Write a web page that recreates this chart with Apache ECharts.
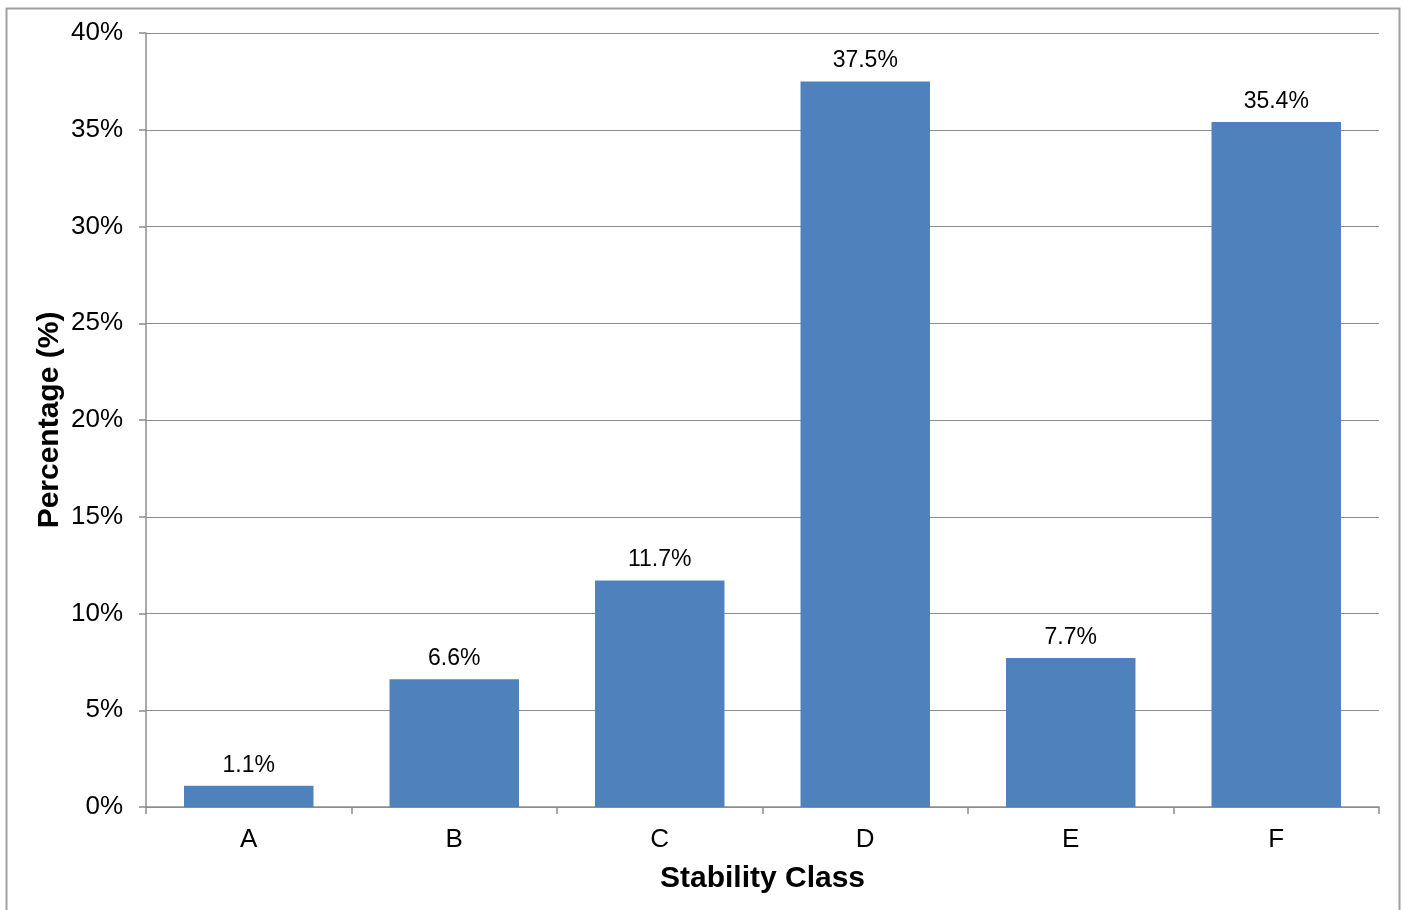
<!DOCTYPE html>
<html><head><meta charset="utf-8">
<script src="https://cdn.jsdelivr.net/npm/echarts@6/dist/echarts.min.js"></script>
<style>html,body{margin:0;padding:0;background:#fff}#c{width:1405px;height:910px}</style>
</head><body><div id="c"></div>
<script>
const categories = ['A','B','C','D','E','F'];
const percentages = [1.1, 6.6, 11.7, 37.5, 7.7, 35.4];
const yTicks = [0, 5, 10, 15, 20, 25, 30, 35, 40];

const chart = echarts.init(document.getElementById('c'), null, {renderer:'canvas'});
const font = 'Liberation Sans, Arial, sans-serif';
chart.setOption({
  animation: false,
  graphic: [{type:'rect', shape:{x:6.5, y:8.5, width:1393, height:920}, style:{fill:'none', stroke:'#a0a0a0', lineWidth:2}, z:-1}],
  grid: {left:146, right:26, top:33, bottom:103},
  xAxis: {
    type:'category', data:categories,
    name:'Stability Class', nameLocation:'middle', nameGap:57, nameMoveOverlap:false,
    nameTextStyle:{fontFamily:font, fontSize:30, fontWeight:'bold', color:'#000'},
    axisLine:{lineStyle:{color:'#8c8c8c', width:1.5}},
    axisTick:{show:true, length:7, lineStyle:{color:'#8c8c8c', width:1.5}},
    axisLabel:{fontFamily:font, fontSize:26, color:'#000', margin:20}
  },
  yAxis: {
    type:'value', min:yTicks[0], max:yTicks[yTicks.length-1], interval:5,
    name:'Percentage (%)', nameLocation:'middle', nameGap:81, nameMoveOverlap:false,
    nameTextStyle:{fontFamily:font, fontSize:30, fontWeight:'bold', color:'#000'},
    axisLine:{show:true, lineStyle:{color:'#8c8c8c', width:1.5}},
    axisTick:{show:true, length:7, lineStyle:{color:'#8c8c8c', width:1.5}},
    splitLine:{lineStyle:{color:'#8c8c8c', width:1.2}},
    axisLabel:{fontFamily:font, fontSize:26, color:'#000', margin:23, formatter: v => v + '%'}
  },
  series: [{
    type:'bar', data:percentages, barCategoryGap:'37%',
    itemStyle:{color:'#4F81BD'},
    label:{show:true, position:'top', distance:9, fontFamily:font, fontSize:23, color:'#000',
      formatter: p => p.value.toFixed(1) + '%'}
  }]
});
</script></body></html>
